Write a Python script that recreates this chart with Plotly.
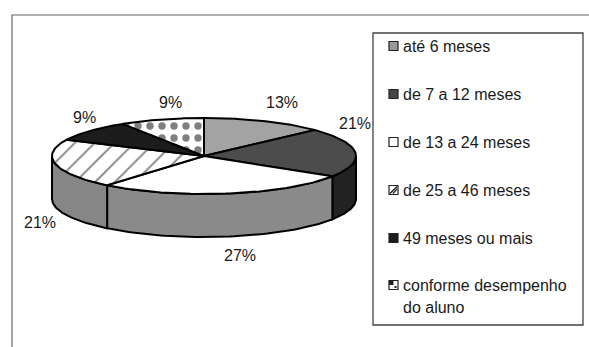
import numpy as np
import plotly.graph_objects as go

# Data
categories = [
    "até 6 meses",
    "de 7 a 12 meses",
    "de 13 a 24 meses",
    "de 25 a 46 meses",
    "49 meses ou mais",
    "conforme desempenho\ndo aluno",
]
values = [13, 21, 27, 21, 9, 9]

# Styling of slices (top face / side wall / fill pattern)
top_colors = ["#a3a3a3", "#4c4c4c", "#ffffff", "#ffffff", "#1c1c1c", "#ffffff"]
side_colors = ["#6e6e6e", "#222222", "#8a8a8a", "#868686", "#111111", "#888888"]
patterns = [None, None, None, "/", None, "."]

# Geometry of the tilted pie (pixels)
cx, cy, rx, ry, depth = 204, 156, 152, 38, 43
label_xy = [(282, 102), (355, 123), (240, 255), (40, 222), (84, 117), (170, 102)]

W, H = 589, 347
FONT = "Liberation Sans, Arial, sans-serif"
TXT = "#1a1a1a"


def arc(a0, a1, dy=0.0, n=60):
    t = np.radians(np.linspace(a0, a1, n))
    return list(cx + rx * np.sin(t)), list(cy - ry * np.cos(t) + dy)


total = sum(values)
bounds = np.concatenate([[0], np.cumsum(values) / total * 360.0])

fig = go.Figure()

# side walls (front half only)
for i in range(len(values)):
    a0, a1 = max(bounds[i], 90), min(bounds[i + 1], 270)
    if a0 >= a1:
        continue
    xt, yt = arc(a0, a1)
    xb, yb = arc(a0, a1, depth)
    xs = xt + xb[::-1] + [xt[0]]
    ys = yt + yb[::-1] + [yt[0]]
    fig.add_trace(go.Scatter(x=xs, y=ys, mode="lines", fill="toself",
                             fillcolor=side_colors[i],
                             line=dict(color="black", width=2),
                             hoverinfo="skip", showlegend=False))

# top faces
for i in range(len(values)):
    xa, ya = arc(bounds[i], bounds[i + 1])
    xs = [cx] + xa + [cx]
    ys = [cy] + ya + [cy]
    kw = {}
    if patterns[i] == "/":
        kw["fillpattern"] = dict(shape="/", bgcolor="white", fgcolor="black",
                                 size=14, solidity=0.13)
    elif patterns[i] == ".":
        kw["fillpattern"] = dict(shape=".", bgcolor="white", fgcolor="black",
                                 size=12, solidity=0.3)
    fig.add_trace(go.Scatter(x=xs, y=ys, mode="lines", fill="toself",
                             fillcolor=top_colors[i],
                             line=dict(color="black", width=2),
                             hoverinfo="skip", showlegend=False, **kw))

annotations = []
for (lx, ly), v in zip(label_xy, values):
    annotations.append(dict(x=lx, y=ly, text=f"{v}%", showarrow=False,
                            xref="x", yref="y",
                            font=dict(family=FONT, size=16, color=TXT)))

shapes = [
    # outer frame
    dict(type="rect", xref="x", yref="y", x0=12, y0=15, x1=600, y1=360,
         line=dict(color="#666", width=1.2), layer="below"),
    # legend box
    dict(type="rect", xref="x", yref="y", x0=373, y0=33, x1=583, y1=325,
         line=dict(color="#444", width=1.3)),
]

# legend entries
row_y = [46, 94, 142, 190, 238, 285]
icon_fill = ["#999999", "#444444", "#ffffff", "#ffffff", "#1c1c1c", "#ffffff"]
ix0, ix1, s = 389, 398, 4.5
for i, (name, yy) in enumerate(zip(categories, row_y)):
    shapes.append(dict(type="rect", xref="x", yref="y", x0=ix0, x1=ix1,
                       y0=yy - s, y1=yy + s, fillcolor=icon_fill[i],
                       line=dict(color="#222", width=1.2)))
    if patterns[i] == "/":
        shapes.append(dict(type="line", xref="x", yref="y", x0=ix0 + 1, y0=yy + s - 1,
                           x1=ix1 - 1, y1=yy - s + 1, line=dict(color="#222", width=1.4)))
        shapes.append(dict(type="line", xref="x", yref="y", x0=ix0 + 4, y0=yy + s - 1,
                           x1=ix1 - 1, y1=yy - 1, line=dict(color="#222", width=1.2)))
    elif patterns[i] == ".":
        shapes.append(dict(type="rect", xref="x", yref="y", x0=ix0, x1=ix0 + 4.5,
                           y0=yy - s, y1=yy, fillcolor="#222", line=dict(width=0)))
        shapes.append(dict(type="rect", xref="x", yref="y", x0=ix1 - 3.5, x1=ix1 - 1.5,
                           y0=yy + 1, y1=yy + 3, fillcolor="#222", line=dict(width=0)))
    for j, line in enumerate(name.split("\n")):
        annotations.append(dict(x=401, y=yy + 22 * j, text=line, showarrow=False,
                                xref="x", yref="y", xanchor="left", yanchor="middle",
                                font=dict(family=FONT, size=16, color=TXT)))

fig.update_layout(
    width=W, height=H, margin=dict(l=0, r=0, t=0, b=0),
    paper_bgcolor="white", plot_bgcolor="white",
    xaxis=dict(range=[0, W], visible=False, fixedrange=True),
    yaxis=dict(range=[H, 0], visible=False, fixedrange=True),
    shapes=shapes, annotations=annotations, showlegend=False,
)

fig.write_html("out.html")
